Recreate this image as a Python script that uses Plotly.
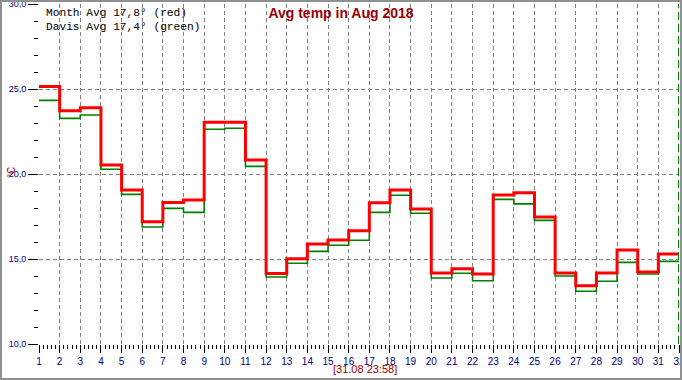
import plotly.graph_objects as go

# ---- data ----
days = list(range(1, 32))
month_avg = [25.15, 23.72, 23.90, 20.53, 19.06, 17.19, 18.33, 18.47, 23.04, 23.04,
             20.82, 14.14, 15.02, 15.88, 16.12, 16.66, 18.31, 19.06, 17.94, 14.18,
             14.43, 14.12, 18.76, 18.90, 17.47, 14.18, 13.43, 14.18, 15.53, 14.24, 15.29]
davis_avg = [24.33, 23.27, 23.47, 20.28, 18.80, 16.88, 17.98, 17.74, 22.63, 22.69,
             20.45, 13.94, 14.75, 15.45, 15.81, 16.10, 17.74, 18.75, 17.69, 13.88,
             14.16, 13.72, 18.51, 18.24, 17.27, 14.00, 13.10, 13.69, 14.80, 14.12, 14.86]
legend_lines = ["Month Avg 17,8° (red)", "Davis Avg 17,4° (green)"]
title_text = "Avg temp in Aug 2018"
stamp_text = "[31.08 23:58]"
unit_text = "°C"
x_range = [1, 32]
y_range = [10, 30]

# step series end at the last day's end
x_step = days + [days[-1] + 1]
red_step = month_avg + [month_avg[-1]]
green_step = davis_avg + [davis_avg[-1]]

W, H = 682, 380
L, R, T, B = 39, 3, 4, 36
PW, PH = W - L - R, H - T - B


def px(X):
    return (X - L) / PW


def py(Y):
    return (H - B - Y) / PH


fig = go.Figure()
fig.add_trace(go.Scatter(x=x_step, y=green_step, mode="lines", line_shape="hv",
                         line=dict(color="#008000", width=1.6), hoverinfo="skip"))
fig.add_trace(go.Scatter(x=x_step, y=red_step, mode="lines", line_shape="hv",
                         line=dict(color="#ff0000", width=3), hoverinfo="skip"))
# empty trace to register grid overlay axes
fig.add_trace(go.Scatter(x=[], y=[], xaxis="x2", yaxis="y2", hoverinfo="skip"))

tickfont_x = dict(family="Liberation Sans, Arial", size=10, color="#000080")
tickfont_y = dict(family="Liberation Sans, Arial", size=9, color="#000080")

fig.update_layout(
    width=W, height=H,
    margin=dict(l=L, r=R, t=T, b=B, pad=0),
    paper_bgcolor="white", plot_bgcolor="white",
    showlegend=False,
    separators=", ",
    xaxis=dict(range=x_range, tickmode="linear", tick0=1, dtick=1,
               ticks="outside", ticklen=8, tickwidth=1, tickcolor="black",
               tickfont=tickfont_x, showgrid=False, zeroline=False, showline=False,
               automargin=False, fixedrange=True, ticklabeloverflow="allow",
               minor=dict(dtick=0.2, tick0=1, ticks="outside", ticklen=4,
                          tickcolor="black", showgrid=False)),
    yaxis=dict(range=y_range, tickmode="linear", tick0=10, dtick=5, tickformat=".1f",
               ticks="outside", ticklen=10, tickwidth=1, tickcolor="black",
               tickfont=tickfont_y, showgrid=False, zeroline=False, showline=False,
               automargin=False, fixedrange=True, ticklabeloverflow="allow",
               minor=dict(dtick=1, tick0=10, ticks="outside", ticklen=4,
                          tickcolor="black", showgrid=False)),
    xaxis2=dict(range=x_range, overlaying="x", anchor="y2",
                tickvals=[d for d in range(x_range[0] + 1, x_range[1])],
                showticklabels=False, ticks="", showgrid=True,
                gridcolor="#808080", gridwidth=1, griddash="4px,3px",
                zeroline=False, showline=False, automargin=False),
    yaxis2=dict(range=y_range, overlaying="y", anchor="x2",
                tickvals=[v for v in range(y_range[0] + 5, y_range[1], 5)],
                showticklabels=False, ticks="", showgrid=True,
                gridcolor="#808080", gridwidth=1, griddash="4px,3px",
                zeroline=False, showline=False, automargin=False),
    title=dict(text=title_text, x=0.5, xref="container", xanchor="center",
               y=1 - 13 / H, yref="container", yanchor="middle",
               font=dict(family="Liberation Sans, Arial", size=14, color="#990000",
                         weight="bold")),
)

# legend texts
for i, line in enumerate(legend_lines):
    fig.add_annotation(x=px(44), y=py(13 + 14 * i), xref="paper", yref="paper",
                       xanchor="left", yanchor="middle", showarrow=False, text=line,
                       font=dict(family="Liberation Mono, Courier New", size=11.2,
                                 color="black"))

# unit label
fig.add_annotation(x=px(11), y=py(173), xref="paper", yref="paper",
                   xanchor="center", yanchor="middle", showarrow=False,
                   text=unit_text, textangle=-90,
                   font=dict(family="Liberation Sans, Arial", size=10, color="#990000"))

# time stamp
fig.add_annotation(x=px(365), y=py(369), xref="paper", yref="paper",
                   xanchor="center", yanchor="middle", showarrow=False,
                   text=stamp_text,
                   font=dict(family="Liberation Sans, Arial", size=11, color="#990000"))

# current time marker
fig.add_shape(type="line", xref="x", yref="paper", x0=x_range[1], x1=x_range[1],
              y0=0, y1=1, line=dict(color="#008000", width=2, dash="8px,4px"))

# outer frame
fig.add_shape(type="rect", xref="paper", yref="paper",
              x0=px(1), x1=px(W - 1), y0=py(H - 1), y1=py(1),
              line=dict(color="#909090", width=2))

fig.write_html("out.html", config={"displayModeBar": False},
               post_script="document.body.style.margin='0';document.body.style.padding='0';")
